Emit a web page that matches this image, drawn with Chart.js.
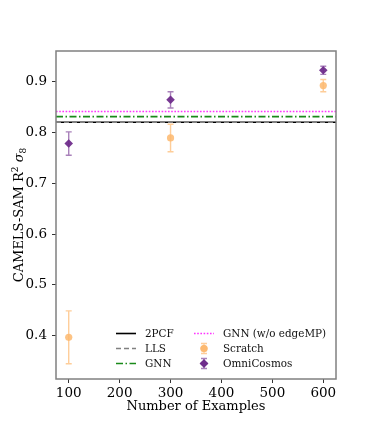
<!DOCTYPE html>
<html>
<head>
<meta charset="utf-8">
<script src="https://cdn.jsdelivr.net/npm/chart.js@4/dist/chart.umd.min.js"></script>
<style>
  html, body { margin: 0; padding: 0; background: #fff; }
  #wrap { width: 373px; height: 426px; }
</style>
</head>
<body>
<div id="wrap"><canvas id="chart"></canvas></div>
<script>
// values
const nExamples = [100, 300, 600];
const scratchMean = [0.397, 0.789, 0.892];
const scratchErr = [0.052, 0.027, 0.012];
const omniMean = [0.778, 0.864, 0.922];
const omniErr = [0.023, 0.016, 0.008];

const baselineNames = ['2PCF', 'LLS', 'GNN', 'GNN (w/o edgeMP)'];
const baselineValues = [0.82, 0.82, 0.831, 0.841];

const xTicks = [100, 200, 300, 400, 500, 600];
const yTicks = [0.4, 0.5, 0.6, 0.7, 0.8, 0.9];
const xRange = [75, 625];
const yRange = [0.315, 0.96];

const FONT = "'DejaVu Serif', 'Liberation Serif', serif";

const lineStyles = [
  { color: '#000000', dash: [], width: 1.6 },
  { color: '#808080', dash: [5, 3], width: 1.6 },
  { color: '#1a8a1a', dash: [7, 2.5, 1.5, 2.5], width: 1.6 },
  { color: '#ff33ff', dash: [1.6, 1.6], width: 1.6 },
];

const baselineSets = baselineNames.map((name, i) => ({
  label: name,
  type: 'line',
  data: [{ x: xRange[0], y: baselineValues[i] }, { x: xRange[1], y: baselineValues[i] }],
  borderColor: lineStyles[i].color,
  borderDash: lineStyles[i].dash,
  borderWidth: lineStyles[i].width,
  pointRadius: 0,
  fill: false,
  order: 10 - i,
}));

const pointSets = [
  {
    label: 'Scratch',
    data: nExamples.map((x, i) => ({ x, y: scratchMean[i] })),
    errors: scratchErr,
    backgroundColor: 'rgba(253, 184, 110, 0.85)',
    barColor: 'rgba(253, 184, 110, 0.7)',
    pointStyle: 'circle',
    pointRadius: 3.6,
    borderWidth: 0,
    order: 1,
  },
  {
    label: 'OmniCosmos',
    data: nExamples.map((x, i) => ({ x, y: omniMean[i] })),
    errors: omniErr,
    backgroundColor: 'rgba(112, 45, 140, 0.95)',
    barColor: 'rgba(112, 45, 140, 0.6)',
    pointStyle: 'rectRot',
    pointRadius: 4.3,
    borderWidth: 0,
    order: 0,
  },
];

// error bars, using the chart's own scales
const errorBars = {
  id: 'errorBars',
  beforeDatasetsDraw(chart) {
    const { ctx, scales: { x, y } } = chart;
    chart.data.datasets.forEach((ds) => {
      if (!ds.errors) return;
      ctx.save();
      ctx.strokeStyle = ds.barColor;
      ctx.lineWidth = 1.4;
      ds.data.forEach((p, i) => {
        const px = x.getPixelForValue(p.x);
        const top = y.getPixelForValue(p.y + ds.errors[i]);
        const bot = y.getPixelForValue(p.y - ds.errors[i]);
        ctx.beginPath();
        ctx.moveTo(px, top); ctx.lineTo(px, bot);
        ctx.moveTo(px - 3, top); ctx.lineTo(px + 3, top);
        ctx.moveTo(px - 3, bot); ctx.lineTo(px + 3, bot);
        ctx.stroke();
      });
      ctx.restore();
    });
  },
};

// axes frame (all four sides)
const frame = {
  id: 'frame',
  afterDraw(chart) {
    const { ctx, chartArea: a } = chart;
    ctx.save();
    ctx.strokeStyle = '#808080';
    ctx.lineWidth = 1.5;
    ctx.strokeRect(a.left, a.top, a.right - a.left, a.bottom - a.top);
    ctx.restore();
  },
};

// y axis title with italic sigma, superscript 2 and subscript 8
const yTitleParts = [
  { t: 'CAMELS-SAM R', size: 13, style: '', dy: 0 },
  { t: '2', size: 9, style: '', dy: -5 },
  { t: ' ', size: 13, style: '', dy: 0 },
  { t: 'σ', size: 13, style: 'italic ', dy: 0 },
  { t: '8', size: 9, style: '', dy: 3 },
];
const yTitle = {
  id: 'yTitle',
  afterDraw(chart) {
    const { ctx, chartArea: a } = chart;
    ctx.save();
    ctx.fillStyle = '#000';
    ctx.textBaseline = 'alphabetic';
    let total = 0;
    yTitleParts.forEach((p) => {
      ctx.font = p.style + p.size + 'px ' + FONT;
      total += ctx.measureText(p.t).width;
    });
    ctx.translate(23, (a.top + a.bottom) / 2);
    ctx.rotate(-Math.PI / 2);
    let cx = -total / 2;
    yTitleParts.forEach((p) => {
      ctx.font = p.style + p.size + 'px ' + FONT;
      ctx.fillText(p.t, cx, p.dy);
      cx += ctx.measureText(p.t).width;
    });
    ctx.restore();
  },
};

// matplotlib style legend, 2 columns filled column-first
const innerLegend = {
  id: 'innerLegend',
  afterDraw(chart) {
    const { ctx, chartArea: a } = chart;
    const sets = chart.data.datasets;
    const order = [...baselineNames, 'Scratch', 'OmniCosmos'];
    ctx.save();
    ctx.font = '10.4px ' + FONT;
    ctx.textBaseline = 'middle';
    ctx.fillStyle = '#111';
    order.forEach((name, k) => {
      const ds = sets.find((d) => d.label === name);
      const col = Math.floor(k / 3), row = k % 3;
      const x0 = a.left + 60 + col * 78;
      const yy = a.bottom - 45.5 + row * 15;
      if (ds.type === 'line') {
        ctx.strokeStyle = ds.borderColor;
        ctx.lineWidth = ds.borderWidth;
        ctx.setLineDash(ds.borderDash);
        ctx.beginPath();
        ctx.moveTo(x0, yy); ctx.lineTo(x0 + 20, yy);
        ctx.stroke();
        ctx.setLineDash([]);
      } else {
        const cx = x0 + 10;
        ctx.strokeStyle = ds.barColor;
        ctx.lineWidth = 1.4;
        ctx.beginPath();
        ctx.moveTo(cx, yy - 5); ctx.lineTo(cx, yy + 5);
        ctx.moveTo(cx - 3, yy - 5); ctx.lineTo(cx + 3, yy - 5);
        ctx.moveTo(cx - 3, yy + 5); ctx.lineTo(cx + 3, yy + 5);
        ctx.stroke();
        ctx.fillStyle = ds.backgroundColor;
        Chart.helpers.drawPoint(ctx, { pointStyle: ds.pointStyle, radius: ds.pointRadius, borderWidth: 0 }, cx, yy);
        ctx.fill();
        ctx.fillStyle = '#111';
      }
      ctx.fillText(name, x0 + 29, yy + 0.5);
    });
    ctx.restore();
  },
};

const tickFont = { family: FONT, size: 13.5 };

new Chart(document.getElementById('chart'), {
  type: 'scatter',
  data: { datasets: [...pointSets, ...baselineSets] },
  options: {
    responsive: true,
    maintainAspectRatio: false,
    animation: false,
    layout: { padding: { left: 0, right: 37, top: 51, bottom: 0 } },
    plugins: {
      legend: { display: false },
      tooltip: { enabled: false },
    },
    scales: {
      x: {
        type: 'linear',
        min: xRange[0],
        max: xRange[1],
        afterBuildTicks: (s) => { s.ticks = xTicks.map((v) => ({ value: v })); },
        afterFit: (s) => { s.height = 47; },
        grid: { drawOnChartArea: false, drawTicks: true, tickLength: 4, color: '#333', lineWidth: 1 },
        border: { display: false },
        ticks: { font: tickFont, color: '#000', padding: 2, maxRotation: 0 },
        title: { display: true, text: 'Number of Examples', font: { family: FONT, size: 13 }, color: '#000', padding: { top: 0, bottom: 12 } },
      },
      y: {
        type: 'linear',
        min: yRange[0],
        max: yRange[1],
        afterBuildTicks: (s) => { s.ticks = yTicks.map((v) => ({ value: v })); },
        afterFit: (s) => { s.width = 56; },
        grid: { drawOnChartArea: false, drawTicks: true, tickLength: 4, color: '#333', lineWidth: 1 },
        border: { display: false },
        ticks: { font: tickFont, color: '#000', padding: 5, callback: (v) => v.toFixed(1) },
        title: { display: false },
      },
    },
  },
  plugins: [errorBars, frame, yTitle, innerLegend],
});
</script>
</body>
</html>
